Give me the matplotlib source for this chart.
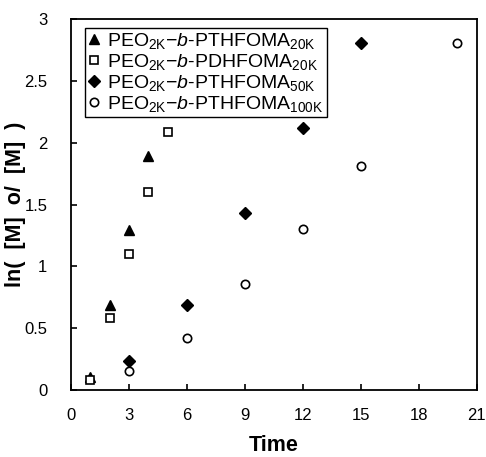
import numpy as np
import matplotlib
matplotlib.use('Agg')
import matplotlib.pyplot as plt
from matplotlib.ticker import FuncFormatter

plt.rcParams['font.family'] = ['Liberation Sans', 'DejaVu Sans']
plt.rcParams['mathtext.fontset'] = 'custom'
plt.rcParams['mathtext.rm'] = 'Liberation Sans'
plt.rcParams['mathtext.it'] = 'Liberation Sans:italic'

# data
t_a = [1, 2, 3, 4]
y_a = [0.10, 0.69, 1.29, 1.89]
t_b = [1, 2, 3, 4, 5]
y_b = [0.08, 0.58, 1.10, 1.60, 2.09]
t_c = [3, 6, 9, 12, 15]
y_c = [0.23, 0.69, 1.43, 2.12, 2.81]
t_d = [3, 6, 9, 12, 15, 20]
y_d = [0.15, 0.42, 0.86, 1.30, 1.81, 2.81]

labels = [r'PEO$_{\rm 2K}$$-$$\it{b}$-PTHFOMA$_{\rm 20K}$',
          r'PEO$_{\rm 2K}$$-$$\it{b}$-PDHFOMA$_{\rm 20K}$',
          r'PEO$_{\rm 2K}$$-$$\it{b}$-PTHFOMA$_{\rm 50K}$',
          r'PEO$_{\rm 2K}$$-$$\it{b}$-PTHFOMA$_{\rm 100K}$']

fig = plt.figure(figsize=(4.86, 4.57), dpi=100)
ax = fig.add_axes([0.146, 0.147, 0.835, 0.811])

ax.plot(t_a, y_a, '^', color='black', ms=7, ls='none', label=labels[0])
ax.plot(t_b, y_b, 's', mfc='white', mec='black', mew=1.2, ms=6, ls='none', label=labels[1])
ax.plot(t_c, y_c, 'D', color='black', ms=6, ls='none', label=labels[2])
ax.plot(t_d, y_d, 'o', mfc='white', mec='black', mew=1.2, ms=6, ls='none', label=labels[3])

ax.set_xlim(0, 21)
ax.set_ylim(0, 3)
ax.set_xticks(np.arange(0, 22, 3))
ax.set_yticks(np.arange(0, 3.01, 0.5))
ax.yaxis.set_major_formatter(FuncFormatter(lambda v, p: '%g' % v))
ax.tick_params(direction='in', length=4, width=1.2, labelsize=12, top=False, right=False)
ax.tick_params(axis='x', pad=13)
ax.tick_params(axis='y', pad=17)
for s in ax.spines.values():
    s.set_linewidth(1.3)

ax.set_xlabel('Time', fontsize=15.5, fontweight='bold', labelpad=9)
ax.set_ylabel('ln(  [M]  o/  [M]  )', fontsize=15.5, fontweight='bold')
ax.yaxis.set_label_coords(-0.11, 0.5)

leg = ax.legend(loc='upper left', bbox_to_anchor=(0.034, 0.976), fontsize=14,
                frameon=True, fancybox=False, edgecolor='black', framealpha=1,
                handlelength=0.6, handletextpad=0.4, labelspacing=0.05, borderpad=0.15,
                borderaxespad=0)
leg.get_frame().set_linewidth(1.0)

plt.savefig('out.png', dpi=100)
